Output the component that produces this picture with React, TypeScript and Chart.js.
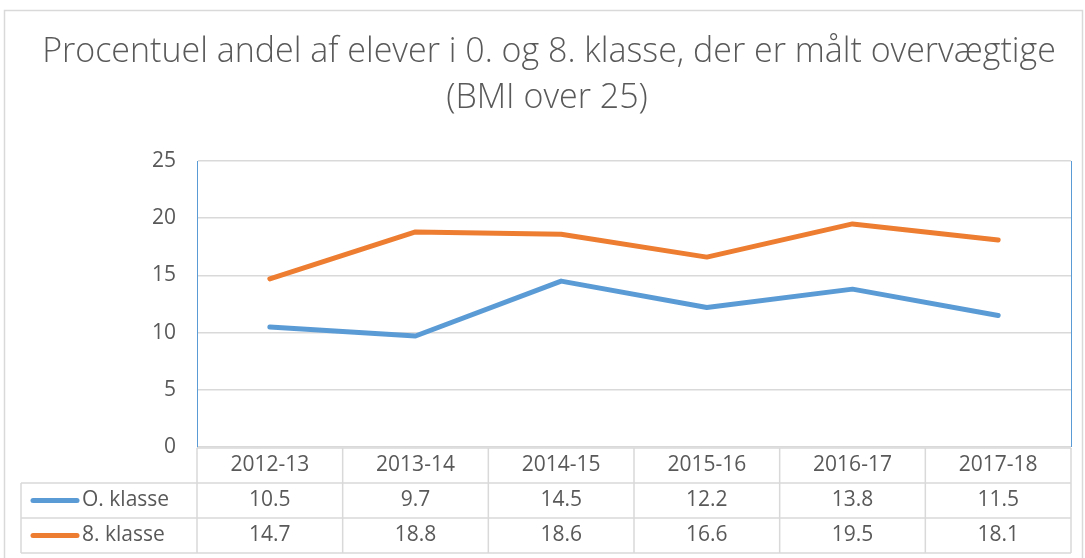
import React, { useEffect, useRef } from "react";
import { Chart, registerables } from "chart.js";

Chart.register(...registerables);

const titleLines = ["Procentuel andel af elever i 0. og 8. klasse, der er målt overvægtige", "(BMI over 25)"];
const categories = ["2012-13", "2013-14", "2014-15", "2015-16", "2016-17", "2017-18"];
const seriesNames = ["O. klasse", "8. klasse"];
const klasse0 = [10.5, 9.7, 14.5, 12.2, 13.8, 11.5];
const klasse8 = [14.7, 18.8, 18.6, 16.6, 19.5, 18.1];
const seriesColors = ["#5B9BD5", "#ED7D31"];
const yMax = 25;
const yStep = 5;

const W = 1085;
const H = 558;
const FONT = "'Open Sans', 'DejaVu Sans', sans-serif";
const TEXT = "#595959";
const GRID = "#d9d9d9";

const framePlugin = {
  id: "frame",
  beforeDraw(chart: any) {
    const ctx = chart.ctx;
    ctx.save();
    ctx.fillStyle = "#ffffff";
    ctx.fillRect(0, 0, W, H);
    ctx.strokeStyle = GRID;
    ctx.lineWidth = 1.5;
    ctx.strokeRect(4.5, 10.5, 1078, 600);
    ctx.fillStyle = TEXT;
    ctx.font = `300 34px ${FONT}`;
    ctx.textAlign = "center";
    ctx.textBaseline = "alphabetic";
    ctx.fillText(titleLines[0], 549, 62);
    ctx.fillText(titleLines[1], 547, 108);
    ctx.restore();
  },
  afterDraw(chart: any) {
    const ctx = chart.ctx;
    const area = chart.chartArea;
    const n = categories.length;
    const colW = (area.right - area.left) / n;
    const rowH = 35;
    const legendLeft = 21;
    ctx.save();
    ctx.strokeStyle = "#5B9BD5";
    ctx.lineWidth = 1;
    ctx.beginPath();
    ctx.moveTo(Math.round(area.right) + 0.5, area.top);
    ctx.lineTo(Math.round(area.right) + 0.5, area.bottom);
    ctx.stroke();

    ctx.strokeStyle = GRID;
    ctx.lineWidth = 1.5;
    const top = area.bottom + 1;
    ctx.beginPath();
    ctx.moveTo(area.left, top);
    ctx.lineTo(area.right, top);
    for (let r = 1; r <= 3; r++) {
      const y = top + r * rowH;
      ctx.moveTo(legendLeft, y);
      ctx.lineTo(area.right, y);
    }
    for (let c = 0; c <= n; c++) {
      const x = area.left + c * colW;
      ctx.moveTo(x, top);
      ctx.lineTo(x, top + 3 * rowH);
    }
    ctx.moveTo(legendLeft, top + rowH);
    ctx.lineTo(legendLeft, top + 3 * rowH);
    ctx.stroke();

    ctx.fillStyle = TEXT;
    ctx.font = `21px ${FONT}`;
    ctx.textAlign = "center";
    ctx.textBaseline = "middle";
    categories.forEach((cat, i) => {
      ctx.fillText(cat, area.left + (i + 0.5) * colW, top + rowH / 2);
    });
    const datas = [klasse0, klasse8];
    datas.forEach((vals, r) => {
      const cy = top + (r + 1.5) * rowH;
      vals.forEach((v, i) => {
        ctx.textAlign = "center";
        ctx.fillText(v.toFixed(1), area.left + (i + 0.5) * colW, cy);
      });
      ctx.strokeStyle = seriesColors[r];
      ctx.lineWidth = 5;
      ctx.lineCap = "round";
      ctx.beginPath();
      ctx.moveTo(33, cy);
      ctx.lineTo(77, cy);
      ctx.stroke();
      ctx.textAlign = "left";
      ctx.fillStyle = TEXT;
      ctx.fillText(seriesNames[r], 82, cy);
    });
    ctx.restore();
  },
};

export default function App() {
  const ref = useRef<HTMLCanvasElement | null>(null);
  useEffect(() => {
    document.body.style.margin = "0";
    const canvas = ref.current!;
    const chart = new Chart(canvas, {
      type: "line",
      data: {
        labels: categories,
        datasets: [
          {
            label: seriesNames[0],
            data: klasse0,
            borderColor: seriesColors[0],
            backgroundColor: seriesColors[0],
            borderWidth: 5,
            pointRadius: 0,
            borderCapStyle: "round",
            borderJoinStyle: "round",
            tension: 0,
          },
          {
            label: seriesNames[1],
            data: klasse8,
            borderColor: seriesColors[1],
            backgroundColor: seriesColors[1],
            borderWidth: 5,
            pointRadius: 0,
            borderCapStyle: "round",
            borderJoinStyle: "round",
            tension: 0,
          },
        ],
      },
      options: {
        responsive: false,
        animation: false,
        layout: { padding: { top: 161, bottom: 111, right: 14, left: 0 } },
        plugins: {
          legend: { display: false },
          title: { display: false },
          tooltip: { enabled: false },
        },
        scales: {
          x: {
            display: false,
            offset: true,
          },
          y: {
            min: 0,
            max: yMax,
            afterFit: (s: any) => {
              s.width = 197;
            },
            ticks: {
              stepSize: yStep,
              padding: 21,
              color: TEXT,
              font: { family: FONT, size: 21 },
            },
            grid: { color: GRID, lineWidth: 1.5, drawTicks: false },
            border: { color: "#5B9BD5", width: 1 },
          },
        },
      },
      plugins: [framePlugin],
    });
    return () => chart.destroy();
  }, []);
  return (
    <div style={{ position: "fixed", left: 0, top: 0 }}>
      <canvas ref={ref} width={W} height={H} />
    </div>
  );
}
